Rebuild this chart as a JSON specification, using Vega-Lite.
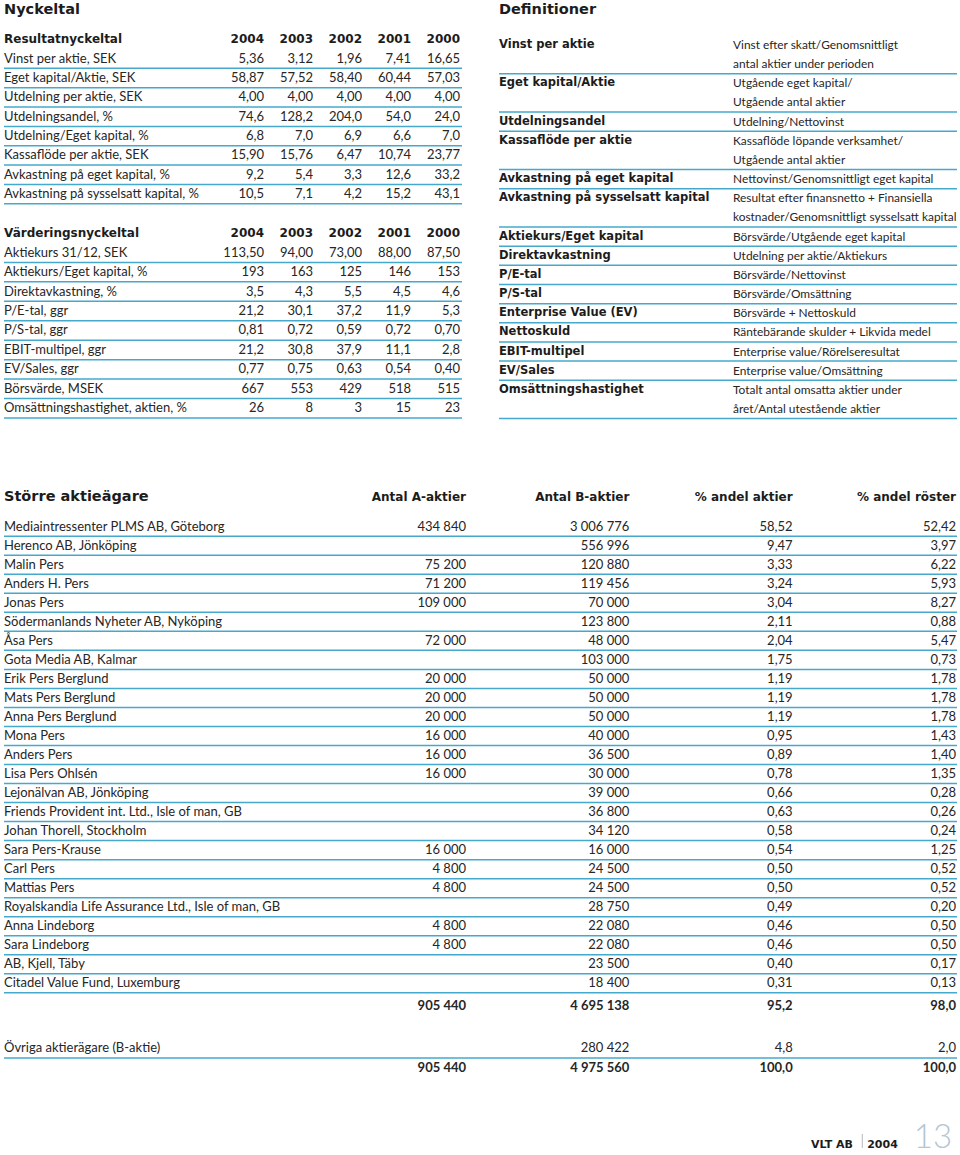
{
  "$schema": "https://vega.github.io/schema/vega-lite/v6.json",
  "width": 960,
  "height": 1155,
  "autosize": {"type": "none"},
  "padding": 0,
  "background": "white",
  "config": {
    "view": {"stroke": null},
    "font": "Lato",
    "text": {"font": "Lato", "fontSize": 13, "color": "#262626", "baseline": "middle"},
    "rule": {"color": "#45a8cd", "strokeWidth": 1.5},
    "locale": {"number": {"decimal": ",", "thousands": " ", "grouping": [3], "currency": ["", " kr"]}}
  },
  "datasets": {
    "rubriker": [
      {"rubrik": "Nyckeltal", "spalt": "vänster", "nivå": "topp"},
      {"rubrik": "Definitioner", "spalt": "höger", "nivå": "topp"},
      {"rubrik": "Större aktieägare", "spalt": "vänster", "nivå": "aktieägare"}
    ],
    "resultat": [
      {"nyckeltal": "Vinst per aktie, SEK", "2004": "5,36", "2003": "3,12", "2002": "1,96", "2001": "7,41", "2000": "16,65"},
      {"nyckeltal": "Eget kapital/Aktie, SEK", "2004": "58,87", "2003": "57,52", "2002": "58,40", "2001": "60,44", "2000": "57,03"},
      {"nyckeltal": "Utdelning per aktie, SEK", "2004": "4,00", "2003": "4,00", "2002": "4,00", "2001": "4,00", "2000": "4,00"},
      {"nyckeltal": "Utdelningsandel, %", "2004": "74,6", "2003": "128,2", "2002": "204,0", "2001": "54,0", "2000": "24,0"},
      {"nyckeltal": "Utdelning/Eget kapital, %", "2004": "6,8", "2003": "7,0", "2002": "6,9", "2001": "6,6", "2000": "7,0"},
      {"nyckeltal": "Kassaflöde per aktie, SEK", "2004": "15,90", "2003": "15,76", "2002": "6,47", "2001": "10,74", "2000": "23,77"},
      {"nyckeltal": "Avkastning på eget kapital, %", "2004": "9,2", "2003": "5,4", "2002": "3,3", "2001": "12,6", "2000": "33,2"},
      {"nyckeltal": "Avkastning på sysselsatt kapital, %", "2004": "10,5", "2003": "7,1", "2002": "4,2", "2001": "15,2", "2000": "43,1"}
    ],
    "vardering": [
      {"nyckeltal": "Aktiekurs 31/12, SEK", "2004": "113,50", "2003": "94,00", "2002": "73,00", "2001": "88,00", "2000": "87,50"},
      {"nyckeltal": "Aktiekurs/Eget kapital, %", "2004": "193", "2003": "163", "2002": "125", "2001": "146", "2000": "153"},
      {"nyckeltal": "Direktavkastning, %", "2004": "3,5", "2003": "4,3", "2002": "5,5", "2001": "4,5", "2000": "4,6"},
      {"nyckeltal": "P/E-tal, ggr", "2004": "21,2", "2003": "30,1", "2002": "37,2", "2001": "11,9", "2000": "5,3"},
      {"nyckeltal": "P/S-tal, ggr", "2004": "0,81", "2003": "0,72", "2002": "0,59", "2001": "0,72", "2000": "0,70"},
      {"nyckeltal": "EBIT-multipel, ggr", "2004": "21,2", "2003": "30,8", "2002": "37,9", "2001": "11,1", "2000": "2,8"},
      {"nyckeltal": "EV/Sales, ggr", "2004": "0,77", "2003": "0,75", "2002": "0,63", "2001": "0,54", "2000": "0,40"},
      {"nyckeltal": "Börsvärde, MSEK", "2004": "667", "2003": "553", "2002": "429", "2001": "518", "2000": "515"},
      {"nyckeltal": "Omsättningshastighet, aktien, %", "2004": "26", "2003": "8", "2002": "3", "2001": "15", "2000": "23"}
    ],
    "definitioner": [
      {"begrepp": "Vinst per aktie", "rader": ["Vinst efter skatt/Genomsnittligt", "antal aktier under perioden"]},
      {"begrepp": "Eget kapital/Aktie", "rader": ["Utgående eget kapital/", "Utgående antal aktier"]},
      {"begrepp": "Utdelningsandel", "rader": ["Utdelning/Nettovinst"]},
      {"begrepp": "Kassaflöde per aktie", "rader": ["Kassaflöde löpande verksamhet/", "Utgående antal aktier"]},
      {"begrepp": "Avkastning på eget kapital", "rader": ["Nettovinst/Genomsnittligt eget kapital"]},
      {"begrepp": "Avkastning på sysselsatt kapital", "rader": ["Resultat efter finansnetto + Finansiella", "kostnader/Genomsnittligt sysselsatt kapital"]},
      {"begrepp": "Aktiekurs/Eget kapital", "rader": ["Börsvärde/Utgående eget kapital"]},
      {"begrepp": "Direktavkastning", "rader": ["Utdelning per aktie/Aktiekurs"]},
      {"begrepp": "P/E-tal", "rader": ["Börsvärde/Nettovinst"]},
      {"begrepp": "P/S-tal", "rader": ["Börsvärde/Omsättning"]},
      {"begrepp": "Enterprise Value (EV)", "rader": ["Börsvärde + Nettoskuld"]},
      {"begrepp": "Nettoskuld", "rader": ["Räntebärande skulder + Likvida medel"]},
      {"begrepp": "EBIT-multipel", "rader": ["Enterprise value/Rörelseresultat"]},
      {"begrepp": "EV/Sales", "rader": ["Enterprise value/Omsättning"]},
      {"begrepp": "Omsättningshastighet", "rader": ["Totalt antal omsatta aktier under", "året/Antal utestående aktier"]}
    ],
    "agare": [
      {"aktieägare": "Mediaintressenter PLMS AB, Göteborg", "Antal A-aktier": 434840, "Antal B-aktier": 3006776, "% andel aktier": 58.52, "% andel röster": 52.42},
      {"aktieägare": "Herenco AB, Jönköping", "Antal B-aktier": 556996, "% andel aktier": 9.47, "% andel röster": 3.97},
      {"aktieägare": "Malin Pers", "Antal A-aktier": 75200, "Antal B-aktier": 120880, "% andel aktier": 3.33, "% andel röster": 6.22},
      {"aktieägare": "Anders H. Pers", "Antal A-aktier": 71200, "Antal B-aktier": 119456, "% andel aktier": 3.24, "% andel röster": 5.93},
      {"aktieägare": "Jonas Pers", "Antal A-aktier": 109000, "Antal B-aktier": 70000, "% andel aktier": 3.04, "% andel röster": 8.27},
      {"aktieägare": "Södermanlands Nyheter AB, Nyköping", "Antal B-aktier": 123800, "% andel aktier": 2.11, "% andel röster": 0.88},
      {"aktieägare": "Åsa Pers", "Antal A-aktier": 72000, "Antal B-aktier": 48000, "% andel aktier": 2.04, "% andel röster": 5.47},
      {"aktieägare": "Gota Media AB, Kalmar", "Antal B-aktier": 103000, "% andel aktier": 1.75, "% andel röster": 0.73},
      {"aktieägare": "Erik Pers Berglund", "Antal A-aktier": 20000, "Antal B-aktier": 50000, "% andel aktier": 1.19, "% andel röster": 1.78},
      {"aktieägare": "Mats Pers Berglund", "Antal A-aktier": 20000, "Antal B-aktier": 50000, "% andel aktier": 1.19, "% andel röster": 1.78},
      {"aktieägare": "Anna Pers Berglund", "Antal A-aktier": 20000, "Antal B-aktier": 50000, "% andel aktier": 1.19, "% andel röster": 1.78},
      {"aktieägare": "Mona Pers", "Antal A-aktier": 16000, "Antal B-aktier": 40000, "% andel aktier": 0.95, "% andel röster": 1.43},
      {"aktieägare": "Anders Pers", "Antal A-aktier": 16000, "Antal B-aktier": 36500, "% andel aktier": 0.89, "% andel röster": 1.40},
      {"aktieägare": "Lisa Pers Ohlsén", "Antal A-aktier": 16000, "Antal B-aktier": 30000, "% andel aktier": 0.78, "% andel röster": 1.35},
      {"aktieägare": "Lejonälvan AB, Jönköping", "Antal B-aktier": 39000, "% andel aktier": 0.66, "% andel röster": 0.28},
      {"aktieägare": "Friends Provident int. Ltd., Isle of man, GB", "Antal B-aktier": 36800, "% andel aktier": 0.63, "% andel röster": 0.26},
      {"aktieägare": "Johan Thorell, Stockholm", "Antal B-aktier": 34120, "% andel aktier": 0.58, "% andel röster": 0.24},
      {"aktieägare": "Sara Pers-Krause", "Antal A-aktier": 16000, "Antal B-aktier": 16000, "% andel aktier": 0.54, "% andel röster": 1.25},
      {"aktieägare": "Carl Pers", "Antal A-aktier": 4800, "Antal B-aktier": 24500, "% andel aktier": 0.50, "% andel röster": 0.52},
      {"aktieägare": "Mattias Pers", "Antal A-aktier": 4800, "Antal B-aktier": 24500, "% andel aktier": 0.50, "% andel röster": 0.52},
      {"aktieägare": "Royalskandia Life Assurance Ltd., Isle of man, GB", "Antal B-aktier": 28750, "% andel aktier": 0.49, "% andel röster": 0.20},
      {"aktieägare": "Anna Lindeborg", "Antal A-aktier": 4800, "Antal B-aktier": 22080, "% andel aktier": 0.46, "% andel röster": 0.50},
      {"aktieägare": "Sara Lindeborg", "Antal A-aktier": 4800, "Antal B-aktier": 22080, "% andel aktier": 0.46, "% andel röster": 0.50},
      {"aktieägare": "AB, Kjell, Täby", "Antal B-aktier": 23500, "% andel aktier": 0.40, "% andel röster": 0.17},
      {"aktieägare": "Citadel Value Fund, Luxemburg", "Antal B-aktier": 18400, "% andel aktier": 0.31, "% andel röster": 0.13}
    ],
    "summering": [
      {"rad": "Summa", "Antal A-aktier": 905440, "Antal B-aktier": 4695138, "% andel aktier": 95.2, "% andel röster": 98.0},
      {"rad": "Övriga aktierägare (B-aktie)", "Antal B-aktier": 280422, "% andel aktier": 4.8, "% andel röster": 2.0},
      {"rad": "Totalt", "Antal A-aktier": 905440, "Antal B-aktier": 4975560, "% andel aktier": 100.0, "% andel röster": 100.0}
    ],
    "sidfot": [
      {"företag": "VLT AB", "år": "2004", "sida": "13"}
    ]
  },
  "layer": [
    {
      "data": {"name": "rubriker"},
      "layer": [
        {
          "mark": {"type": "text", "align": "left", "font": "DejaVu Sans", "fontSize": 14.5, "fontWeight": "bold", "color": "#1c1c1c"},
          "encoding": {
            "x": {"field": "spalt", "type": "nominal", "scale": {"type": "point", "domain": ["vänster", "höger"], "range": [4, 499], "padding": 0}, "axis": null},
            "y": {"field": "nivå", "type": "nominal", "scale": {"type": "point", "domain": ["topp", "aktieägare"], "range": [10, 497], "padding": 0}, "axis": null},
            "text": {"field": "rubrik"}
          }
        },
        {
          "data": {"name": "agare"},
          "transform": [
            {"fold": ["Antal A-aktier", "Antal B-aktier", "% andel aktier", "% andel röster"], "as": ["kolumn", "värde"]},
            {"aggregate": [{"op": "count", "as": "n"}], "groupby": ["kolumn"]}
          ],
          "mark": {"type": "text", "align": "right", "font": "DejaVu Sans", "fontSize": 12, "fontWeight": "bold", "color": "#1c1c1c"},
          "encoding": {
            "x": {"field": "kolumn", "type": "nominal", "bandPosition": 1, "scale": {"type": "band", "domain": ["Antal A-aktier", "Antal B-aktier", "% andel aktier", "% andel röster"], "range": [302.67, 956], "paddingInner": 0, "paddingOuter": 0}, "axis": null},
            "y": {"datum": "aktieägare", "type": "nominal"},
            "text": {"field": "kolumn"}
          }
        }
      ],
      "resolve": {"scale": {"x": "independent"}}
    },
    {
      "data": {"name": "resultat"},
      "transform": [{"window": [{"op": "row_number", "as": "nr"}]}],
      "layer": [
        {
          "mark": {"type": "text", "align": "left"},
          "encoding": {
            "x": {"datum": 0, "type": "quantitative", "scale": {"domain": [0, 1], "range": [4, 462], "nice": false}, "axis": null},
            "y": {"field": "nr", "type": "ordinal", "scale": {"type": "band", "domain": [0, 1, 2, 3, 4, 5, 6, 7, 8], "range": [29.625, 203.775], "paddingInner": 0, "paddingOuter": 0}, "axis": null},
            "text": {"field": "nyckeltal"}
          }
        },
        {
          "transform": [{"aggregate": [{"op": "count", "as": "n"}]}],
          "mark": {"type": "text", "align": "left", "font": "DejaVu Sans", "fontSize": 12, "fontWeight": "bold", "color": "#1c1c1c"},
          "encoding": {
            "x": {"datum": 0, "type": "quantitative", "scale": {"domain": [0, 1], "range": [4, 462], "nice": false}, "axis": null},
            "y": {"datum": 0, "type": "ordinal"},
            "text": {"datum": "Resultatnyckeltal"}
          }
        },
        {
          "mark": "rule",
          "encoding": {
            "x": {"datum": 0, "type": "quantitative", "scale": {"domain": [0, 1], "range": [4, 462], "nice": false}, "axis": null},
            "x2": {"datum": 1},
            "y": {"field": "nr", "type": "ordinal", "bandPosition": 1}
          }
        },
        {
          "transform": [
            {"fold": ["2004", "2003", "2002", "2001", "2000"], "as": ["år", "värde"]},
            {"aggregate": [{"op": "count", "as": "n"}], "groupby": ["år"]}
          ],
          "mark": {"type": "text", "align": "right", "font": "DejaVu Sans", "fontSize": 12, "fontWeight": "bold", "color": "#1c1c1c"},
          "encoding": {
            "x": {"field": "år", "type": "nominal", "bandPosition": 1, "scale": {"type": "band", "domain": ["2004", "2003", "2002", "2001", "2000"], "range": [215, 460], "paddingInner": 0, "paddingOuter": 0}, "axis": null},
            "y": {"datum": 0, "type": "ordinal"},
            "text": {"field": "år"}
          }
        },
        {
          "transform": [{"fold": ["2004", "2003", "2002", "2001", "2000"], "as": ["år", "värde"]}],
          "mark": {"type": "text", "align": "right"},
          "encoding": {
            "x": {"field": "år", "type": "nominal", "bandPosition": 1, "scale": {"type": "band", "domain": ["2004", "2003", "2002", "2001", "2000"], "range": [215, 460], "paddingInner": 0, "paddingOuter": 0}, "axis": null},
            "y": {"field": "nr", "type": "ordinal"},
            "text": {"field": "värde"}
          }
        }
      ],
      "resolve": {"scale": {"x": "independent"}}
    },
    {
      "data": {"name": "vardering"},
      "transform": [{"window": [{"op": "row_number", "as": "nr"}]}],
      "layer": [
        {
          "mark": {"type": "text", "align": "left"},
          "encoding": {
            "x": {"datum": 0, "type": "quantitative", "scale": {"domain": [0, 1], "range": [4, 462], "nice": false}, "axis": null},
            "y": {"field": "nr", "type": "ordinal", "scale": {"type": "band", "domain": [0, 1, 2, 3, 4, 5, 6, 7, 8, 9], "range": [223.475, 417.975], "paddingInner": 0, "paddingOuter": 0}, "axis": null},
            "text": {"field": "nyckeltal"}
          }
        },
        {
          "transform": [{"aggregate": [{"op": "count", "as": "n"}]}],
          "mark": {"type": "text", "align": "left", "font": "DejaVu Sans", "fontSize": 12, "fontWeight": "bold", "color": "#1c1c1c"},
          "encoding": {
            "x": {"datum": 0, "type": "quantitative", "scale": {"domain": [0, 1], "range": [4, 462], "nice": false}, "axis": null},
            "y": {"datum": 0, "type": "ordinal"},
            "text": {"datum": "Värderingsnyckeltal"}
          }
        },
        {
          "mark": "rule",
          "encoding": {
            "x": {"datum": 0, "type": "quantitative", "scale": {"domain": [0, 1], "range": [4, 462], "nice": false}, "axis": null},
            "x2": {"datum": 1},
            "y": {"field": "nr", "type": "ordinal", "bandPosition": 1}
          }
        },
        {
          "transform": [
            {"fold": ["2004", "2003", "2002", "2001", "2000"], "as": ["år", "värde"]},
            {"aggregate": [{"op": "count", "as": "n"}], "groupby": ["år"]}
          ],
          "mark": {"type": "text", "align": "right", "font": "DejaVu Sans", "fontSize": 12, "fontWeight": "bold", "color": "#1c1c1c"},
          "encoding": {
            "x": {"field": "år", "type": "nominal", "bandPosition": 1, "scale": {"type": "band", "domain": ["2004", "2003", "2002", "2001", "2000"], "range": [215, 460], "paddingInner": 0, "paddingOuter": 0}, "axis": null},
            "y": {"datum": 0, "type": "ordinal"},
            "text": {"field": "år"}
          }
        },
        {
          "transform": [{"fold": ["2004", "2003", "2002", "2001", "2000"], "as": ["år", "värde"]}],
          "mark": {"type": "text", "align": "right"},
          "encoding": {
            "x": {"field": "år", "type": "nominal", "bandPosition": 1, "scale": {"type": "band", "domain": ["2004", "2003", "2002", "2001", "2000"], "range": [215, 460], "paddingInner": 0, "paddingOuter": 0}, "axis": null},
            "y": {"field": "nr", "type": "ordinal"},
            "text": {"field": "värde"}
          }
        }
      ],
      "resolve": {"scale": {"x": "independent"}}
    },
    {
      "data": {"name": "definitioner"},
      "transform": [
        {"flatten": ["rader"]},
        {"window": [{"op": "row_number", "as": "rad"}]},
        {"window": [{"op": "row_number", "as": "nr"}, {"op": "count", "as": "antal"}], "groupby": ["begrepp"], "frame": [null, null]}
      ],
      "layer": [
        {
          "mark": {"type": "text", "align": "left", "fontSize": 11.9},
          "encoding": {
            "x": {"datum": "definition", "type": "nominal", "scale": {"type": "point", "domain": ["begrepp", "definition"], "range": [499, 733], "padding": 0}, "axis": null},
            "y": {"field": "rad", "type": "ordinal", "scale": {"type": "band", "domain": [1, 2, 3, 4, 5, 6, 7, 8, 9, 10, 11, 12, 13, 14, 15, 16, 17, 18, 19, 20], "range": [35.42, 418.58], "paddingInner": 0, "paddingOuter": 0}, "axis": null},
            "text": {"field": "rader"}
          }
        },
        {
          "transform": [{"filter": "datum.nr === 1"}],
          "mark": {"type": "text", "align": "left", "font": "DejaVu Sans", "fontSize": 11.5, "fontWeight": "bold", "color": "#1c1c1c"},
          "encoding": {
            "x": {"datum": "begrepp", "type": "nominal", "scale": {"type": "point", "domain": ["begrepp", "definition"], "range": [499, 733], "padding": 0}, "axis": null},
            "y": {"field": "rad", "type": "ordinal"},
            "text": {"field": "begrepp"}
          }
        },
        {
          "transform": [{"filter": "datum.nr === datum.antal"}],
          "mark": "rule",
          "encoding": {
            "x": {"datum": 0, "type": "quantitative", "scale": {"domain": [0, 1], "range": [499, 957], "nice": false}, "axis": null},
            "x2": {"datum": 1},
            "y": {"field": "rad", "type": "ordinal", "bandPosition": 1}
          }
        }
      ],
      "resolve": {"scale": {"x": "independent"}}
    },
    {
      "data": {"name": "agare"},
      "transform": [{"window": [{"op": "row_number", "as": "nr"}]}],
      "layer": [
        {
          "mark": {"type": "text", "align": "left"},
          "encoding": {
            "x": {"datum": 0, "type": "quantitative", "scale": {"domain": [0, 1], "range": [4, 957], "nice": false}, "axis": null},
            "y": {"field": "nr", "type": "ordinal", "scale": {"type": "band", "domain": [1, 2, 3, 4, 5, 6, 7, 8, 9, 10, 11, 12, 13, 14, 15, 16, 17, 18, 19, 20, 21, 22, 23, 24, 25], "range": [517.2, 992.8], "paddingInner": 0, "paddingOuter": 0}, "axis": null},
            "text": {"field": "aktieägare"}
          }
        },
        {
          "mark": "rule",
          "encoding": {
            "x": {"datum": 0, "type": "quantitative", "scale": {"domain": [0, 1], "range": [4, 957], "nice": false}, "axis": null},
            "x2": {"datum": 1},
            "y": {"field": "nr", "type": "ordinal", "bandPosition": 1}
          }
        },
        {
          "transform": [
            {"fold": ["Antal A-aktier", "Antal B-aktier"], "as": ["kolumn", "värde"]},
            {"filter": {"field": "värde", "valid": true}}
          ],
          "mark": {"type": "text", "align": "right"},
          "encoding": {
            "x": {"field": "kolumn", "type": "nominal", "bandPosition": 1, "scale": {"type": "band", "domain": ["Antal A-aktier", "Antal B-aktier", "% andel aktier", "% andel röster"], "range": [302.67, 956], "paddingInner": 0, "paddingOuter": 0}, "axis": null},
            "y": {"field": "nr", "type": "ordinal"},
            "text": {"field": "värde", "type": "quantitative", "format": ",d"}
          }
        },
        {
          "transform": [
            {"fold": ["% andel aktier", "% andel röster"], "as": ["kolumn", "värde"]},
            {"filter": {"field": "värde", "valid": true}}
          ],
          "mark": {"type": "text", "align": "right"},
          "encoding": {
            "x": {"field": "kolumn", "type": "nominal", "bandPosition": 1, "scale": {"type": "band", "domain": ["Antal A-aktier", "Antal B-aktier", "% andel aktier", "% andel röster"], "range": [302.67, 956], "paddingInner": 0, "paddingOuter": 0}, "axis": null},
            "y": {"field": "nr", "type": "ordinal"},
            "text": {"field": "värde", "type": "quantitative", "format": ".2f"}
          }
        }
      ],
      "resolve": {"scale": {"x": "independent"}}
    },
    {
      "data": {"name": "summering"},
      "layer": [
        {
          "transform": [{"filter": "datum.rad === 'Övriga aktierägare (B-aktie)'"}],
          "mark": {"type": "text", "align": "left"},
          "encoding": {
            "x": {"datum": 0, "type": "quantitative", "scale": {"domain": [0, 1], "range": [4, 957], "nice": false}, "axis": null},
            "y": {"field": "rad", "type": "nominal", "scale": {"type": "band", "domain": ["Summa", "mellanrum", "Övriga aktierägare (B-aktie)", "Totalt"], "range": [995.6, 1078.8], "paddingInner": 0, "paddingOuter": 0}, "axis": null},
            "text": {"field": "rad"}
          }
        },
        {
          "transform": [{"filter": "datum.rad === 'Övriga aktierägare (B-aktie)'"}],
          "mark": "rule",
          "encoding": {
            "x": {"datum": 0, "type": "quantitative", "scale": {"domain": [0, 1], "range": [4, 957], "nice": false}, "axis": null},
            "x2": {"datum": 1},
            "y": {"field": "rad", "type": "nominal", "bandPosition": 1}
          }
        },
        {
          "transform": [
            {"filter": "datum.rad !== 'Övriga aktierägare (B-aktie)'"},
            {"fold": ["Antal A-aktier", "Antal B-aktier"], "as": ["kolumn", "värde"]},
            {"filter": {"field": "värde", "valid": true}}
          ],
          "mark": {"type": "text", "align": "right", "fontWeight": "bold"},
          "encoding": {
            "x": {"field": "kolumn", "type": "nominal", "bandPosition": 1, "scale": {"type": "band", "domain": ["Antal A-aktier", "Antal B-aktier", "% andel aktier", "% andel röster"], "range": [302.67, 956], "paddingInner": 0, "paddingOuter": 0}, "axis": null},
            "y": {"field": "rad", "type": "nominal"},
            "text": {"field": "värde", "type": "quantitative", "format": ",d"}
          }
        },
        {
          "transform": [
            {"filter": "datum.rad !== 'Övriga aktierägare (B-aktie)'"},
            {"fold": ["% andel aktier", "% andel röster"], "as": ["kolumn", "värde"]},
            {"filter": {"field": "värde", "valid": true}}
          ],
          "mark": {"type": "text", "align": "right", "fontWeight": "bold"},
          "encoding": {
            "x": {"field": "kolumn", "type": "nominal", "bandPosition": 1, "scale": {"type": "band", "domain": ["Antal A-aktier", "Antal B-aktier", "% andel aktier", "% andel röster"], "range": [302.67, 956], "paddingInner": 0, "paddingOuter": 0}, "axis": null},
            "y": {"field": "rad", "type": "nominal"},
            "text": {"field": "värde", "type": "quantitative", "format": ".1f"}
          }
        },
        {
          "transform": [
            {"filter": "datum.rad === 'Övriga aktierägare (B-aktie)'"},
            {"fold": ["Antal A-aktier", "Antal B-aktier"], "as": ["kolumn", "värde"]},
            {"filter": {"field": "värde", "valid": true}}
          ],
          "mark": {"type": "text", "align": "right"},
          "encoding": {
            "x": {"field": "kolumn", "type": "nominal", "bandPosition": 1, "scale": {"type": "band", "domain": ["Antal A-aktier", "Antal B-aktier", "% andel aktier", "% andel röster"], "range": [302.67, 956], "paddingInner": 0, "paddingOuter": 0}, "axis": null},
            "y": {"field": "rad", "type": "nominal"},
            "text": {"field": "värde", "type": "quantitative", "format": ",d"}
          }
        },
        {
          "transform": [
            {"filter": "datum.rad === 'Övriga aktierägare (B-aktie)'"},
            {"fold": ["% andel aktier", "% andel röster"], "as": ["kolumn", "värde"]},
            {"filter": {"field": "värde", "valid": true}}
          ],
          "mark": {"type": "text", "align": "right"},
          "encoding": {
            "x": {"field": "kolumn", "type": "nominal", "bandPosition": 1, "scale": {"type": "band", "domain": ["Antal A-aktier", "Antal B-aktier", "% andel aktier", "% andel röster"], "range": [302.67, 956], "paddingInner": 0, "paddingOuter": 0}, "axis": null},
            "y": {"field": "rad", "type": "nominal"},
            "text": {"field": "värde", "type": "quantitative", "format": ".1f"}
          }
        }
      ],
      "resolve": {"scale": {"x": "independent"}}
    },
    {
      "data": {"name": "sidfot"},
      "layer": [
        {
          "transform": [{"fold": ["företag", "år"], "as": ["del", "etikett"]}],
          "mark": {"type": "text", "align": "center", "baseline": "alphabetic", "dy": 7, "font": "DejaVu Sans", "fontSize": 11, "fontWeight": "bold", "color": "#1c1c1c"},
          "encoding": {
            "x": {"field": "del", "type": "nominal", "scale": {"type": "band", "domain": ["företag", "år", "sida"], "range": [806.75, 958.25], "paddingInner": 0, "paddingOuter": 0}, "axis": null},
            "y": {"datum": "sidfot", "type": "nominal", "scale": {"type": "band", "domain": ["sidfot"], "range": [1134, 1148], "paddingInner": 0, "paddingOuter": 0}, "axis": null},
            "text": {"field": "etikett"}
          }
        },
        {
          "mark": {"type": "text", "align": "center", "baseline": "alphabetic", "dy": 7, "font": "Lato", "fontSize": 33, "fontWeight": 300, "color": "#b3c6d2"},
          "encoding": {
            "x": {"datum": "sida", "type": "nominal"},
            "y": {"datum": "sidfot", "type": "nominal"},
            "text": {"field": "sida"}
          }
        },
        {
          "mark": {"type": "tick", "orient": "vertical", "size": 14, "thickness": 1, "color": "#9a9a9a"},
          "encoding": {
            "x": {"datum": "år", "type": "nominal", "bandPosition": 0.1},
            "y": {"datum": "sidfot", "type": "nominal"}
          }
        }
      ]
    }
  ],
  "resolve": {"scale": {"x": "independent", "y": "independent"}}
}
